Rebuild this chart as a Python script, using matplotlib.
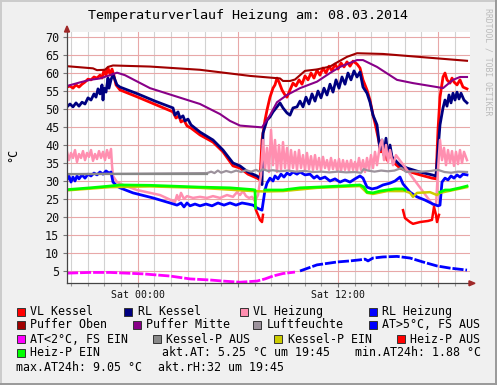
import matplotlib
matplotlib.use("Agg")
from matplotlib import pyplot as plt
from matplotlib.patches import Rectangle, Polygon
from matplotlib.lines import Line2D
import numpy as np

nan = np.nan
W, H = 497, 385
MONO = "DejaVu Sans Mono"

TITLE = "Temperaturverlauf Heizung am: 08.03.2014"
# time axis: hours relative to Sat 00:00 (window Fri 19:45 .. Sat 19:45)
x_ticks = [0, 6, 12, 18]
x_tick_labels = ["Sat 00:00", "", "Sat 12:00", ""]
x_minor = list(range(-4, 20))
y_ticks = list(range(5, 75, 5))

# (hour, degC) pairs
vl_kessel = [(-4.25,56.1),(-4.07,56.4),(-3.89,55.8),(-3.71,56.7),(-3.53,56.1),(-3.35,56.9),(-3.17,57.5),
    (-2.99,58.3),(-2.81,58.1),(-2.63,58.9),(-2.45,58.6),(-2.27,59.4),(-2.15,58.6),(-2.03,60.8),(-1.91,59.4),
    (-1.79,61.4),(-1.67,59.7),(-1.55,61.1),(-1.43,59.2),(-1.31,56.7),(-1.07,55.3),(0.0,53.3),(2.11,49.2),
    (2.29,47.5),(2.47,48.1),(2.59,46.4),(2.77,46.9),(2.95,45.3),(3.19,44.7),(3.73,42.8),(4.51,40.8),(5.11,38.1),
    (5.71,34.2),(6.13,33.6),(6.61,31.9),(7.15,30.8),(7.33,30.3),(7.45,41.4),(7.63,46.9),(7.75,49.7),(7.93,53.3),
    (8.11,55.8),(8.23,56.7),(8.35,58.6),(8.47,57.5),(8.65,55.3),(8.83,53.9),(8.95,53.3),(9.13,55.3),(9.31,57.2),
    (9.49,56.4),(9.67,58.1),(9.85,56.9),(10.03,59.2),(10.21,58.1),(10.39,60.0),(10.57,58.6),(10.75,60.8),
    (10.93,59.4),(11.11,61.4),(11.29,60.0),(11.47,61.9),(11.65,60.6),(11.83,62.5),(12.01,61.1),(12.19,62.8),
    (12.37,61.7),(12.55,63.1),(12.73,61.9),(12.91,63.3),(13.15,62.5),(13.33,61.4),(13.51,58.1),(13.75,55.3),
    (13.93,52.5),(14.11,48.3),(14.23,46.1),(14.41,42.2),(14.59,38.1),(14.77,40.0),(14.95,35.8),(15.13,38.6),
    (15.31,35.3),(15.73,33.6),(16.15,32.8),(16.93,31.7),(17.65,30.8),(17.89,30.6),(18.01,44.2),(18.13,53.3),
    (18.31,58.9),(18.43,60.0),(18.55,58.1),(18.73,57.2),(18.85,58.6),(18.97,57.5),(19.15,56.7),(19.33,58.1),
    (19.51,56.1),(19.75,55.6)]

rl_kessel = [(-4.25,50.6),(-4.07,51.4),(-3.89,50.6),(-3.71,51.7),(-3.53,50.8),(-3.35,51.9),(-3.17,51.4),
    (-2.99,53.1),(-2.81,52.5),(-2.63,54.2),(-2.51,53.3),(-2.39,55.6),(-2.27,54.2),(-2.15,56.7),(-2.09,52.5),
    (-2.03,55.8),(-1.91,54.7),(-1.79,58.6),(-1.73,55.8),(-1.61,58.1),(-1.49,59.7),(-1.37,58.1),(-1.25,56.7),
    (-1.07,56.1),(0.0,54.2),(1.03,52.2),(2.11,50.3),(2.23,48.3),(2.41,49.2),(2.53,47.5),(2.71,48.1),(2.83,46.7),
    (3.01,47.2),(3.19,45.6),(3.73,43.6),(4.51,41.4),(5.11,38.6),(5.71,35.0),(6.13,34.2),(6.61,32.5),(7.15,31.4),
    (7.33,30.8),(7.45,29.0),(7.51,43.3),(7.75,46.9),(7.93,47.8),(8.11,49.2),(8.35,50.6),(8.53,51.7),(8.71,50.3),
    (8.95,48.9),(9.13,48.3),(9.31,50.3),(9.55,50.6),(9.73,52.2),(9.91,50.6),(10.09,53.3),(10.27,51.4),
    (10.45,54.2),(10.63,52.2),(10.81,55.0),(10.99,53.1),(11.17,55.8),(11.35,53.9),(11.53,56.9),(11.71,54.7),
    (11.89,58.1),(12.07,55.8),(12.25,58.9),(12.43,56.9),(12.61,60.0),(12.79,58.1),(12.97,60.6),(13.15,58.9),
    (13.33,60.3),(13.51,56.1),(13.75,54.4),(13.93,51.9),(14.11,48.3),(14.35,45.6),(14.53,38.6),(14.65,41.4),
    (14.77,37.2),(14.89,41.9),(15.01,36.4),(15.13,40.0),(15.25,36.7),(15.73,34.4),(16.15,33.6),(16.93,32.5),
    (17.65,31.7),(17.89,31.4),(18.01,38.6),(18.13,45.6),(18.31,50.3),(18.43,52.5),(18.55,50.8),(18.67,53.9),
    (18.79,51.7),(18.91,54.4),(19.03,52.5),(19.15,54.7),(19.27,52.8),(19.39,54.4),(19.57,52.5),(19.75,51.7)]

vl_heizung = [(-4.25,38.1),(-4.13,35.8),(-4.01,37.8),(-3.89,36.4),(-3.77,38.6),(-3.65,35.3),(-3.53,37.5),
    (-3.41,36.4),(-3.29,38.3),(-3.17,35.8),(-3.05,37.8),(-2.93,36.7),(-2.81,38.6),(-2.69,35.6),(-2.57,37.5),
    (-2.45,36.1),(-2.33,38.3),(-2.21,36.4),(-2.09,38.1),(-1.97,35.8),(-1.85,38.6),(-1.73,36.4),(-1.61,38.9),
    (-1.55,34.4),(-1.49,31.4),(-1.25,29.7),(-0.89,28.9),(-0.05,27.5),(1.33,26.1),(2.23,24.2),(2.35,26.1),
    (2.47,24.7),(2.59,26.7),(2.77,25.0),(2.95,25.8),(3.31,25.3),(3.73,25.6),(4.15,25.3),(4.51,25.8),(4.93,25.3),
    (5.35,26.1),(5.71,25.6),(5.95,26.9),(6.13,26.1),(6.31,27.2),(6.49,25.8),(6.67,25.3),(6.85,25.6),(7.03,24.4),
    (7.21,26.1),(7.39,31.7),(7.51,41.4),(7.63,33.1),(7.75,39.2),(7.87,32.5),(7.99,44.2),(8.11,34.4),(8.23,41.4),
    (8.35,32.5),(8.47,40.0),(8.59,33.1),(8.71,40.8),(8.83,33.6),(8.95,39.2),(9.07,33.1),(9.19,38.6),(9.31,33.6),
    (9.43,38.1),(9.55,33.1),(9.67,38.6),(9.79,33.6),(9.91,37.2),(10.03,33.1),(10.15,37.8),(10.27,33.3),
    (10.39,36.9),(10.51,33.1),(10.63,37.2),(10.75,33.3),(10.87,36.4),(10.99,33.1),(11.11,36.7),(11.23,33.6),
    (11.35,35.8),(11.47,33.1),(11.59,36.4),(11.71,33.3),(11.83,35.8),(11.95,33.1),(12.07,36.1),(12.19,32.8),
    (12.31,35.8),(12.43,33.1),(12.55,35.6),(12.67,32.8),(12.79,35.8),(12.91,33.1),(13.03,35.3),(13.15,32.8),
    (13.27,36.4),(13.39,33.1),(13.51,35.8),(13.63,32.5),(13.75,36.4),(13.87,33.1),(13.99,37.2),(14.11,33.6),
    (14.23,38.1),(14.35,34.4),(14.53,40.0),(14.65,41.4),(14.77,35.8),(14.89,40.0),(15.01,35.3),(15.13,38.6),
    (15.31,34.4),(15.49,37.2),(17.71,23.3),(17.89,23.3),(18.01,33.1),(18.13,41.4),(18.25,35.8),(18.37,39.2),
    (18.49,34.4),(18.61,38.6),(18.73,35.0),(18.85,38.3),(18.97,34.2),(19.09,38.1),(19.21,34.7),(19.33,38.6),
    (19.45,35.0),(19.57,38.1),(19.75,35.8)]

rl_heizung = [(-4.25,30.3),(-4.13,31.4),(-4.01,29.7),(-3.89,31.1),(-3.77,30.0),(-3.65,31.4),(-3.53,30.6),
    (-3.35,31.7),(-3.17,30.8),(-2.99,31.9),(-2.81,31.4),(-2.63,32.2),(-2.45,31.7),(-2.27,32.5),(-2.09,31.9),
    (-1.91,32.8),(-1.73,32.2),(-1.61,32.5),(-1.49,29.7),(-1.25,28.6),(-1.07,28.1),(-0.29,26.7),(0.91,25.3),
    (1.93,23.9),(2.35,23.3),(2.59,23.9),(2.77,22.8),(2.95,23.9),(3.13,23.1),(3.43,23.6),(3.73,23.1),(4.09,23.6),
    (4.45,23.1),(4.81,23.9),(5.17,23.3),(5.53,23.9),(5.89,23.3),(6.25,23.9),(6.61,23.6),(6.91,23.3),(7.15,22.5),
    (7.45,21.9),(7.63,27.5),(7.75,29.4),(7.93,30.8),(8.11,30.0),(8.23,31.4),(8.41,30.6),(8.59,31.9),(8.77,31.1),
    (8.95,32.2),(9.13,31.7),(9.31,32.5),(9.55,31.9),(9.73,32.5),(10.03,31.7),(10.33,31.9),(10.57,30.8),
    (10.75,31.4),(10.93,30.6),(11.23,31.1),(11.53,30.0),(11.83,30.6),(12.13,29.7),(12.43,30.3),(12.73,29.7),
    (13.03,30.6),(13.33,31.4),(13.51,30.8),(13.75,28.3),(14.05,27.8),(14.35,28.1),(14.71,28.9),(15.13,29.4),
    (15.43,30.0),(15.73,31.1),(15.91,29.2),(16.33,26.9),(16.75,25.6),(17.23,24.7),(17.71,23.6),(18.01,23.1),
    (18.13,23.3),(18.25,29.7),(18.43,30.8),(18.61,30.3),(18.79,31.4),(18.97,30.8),(19.15,31.7),(19.33,31.1),
    (19.51,31.9),(19.75,31.7)]

puffer_oben = [(-4.25,61.9),(-2.69,61.3),(-2.45,60.8),(-1.97,60.9),(-1.79,61.7),(-1.49,62.1),(0.73,61.8),
    (3.73,60.9),(6.73,59.2),(8.53,58.5),(8.71,57.8),(9.13,57.8),(9.43,58.2),(9.73,59.4),(10.03,60.6),
    (10.75,61.0),(11.53,61.8),(12.01,63.1),(12.55,64.5),(13.15,65.5),(14.71,65.3),(19.75,63.4)]

puffer_mitte = [(-4.25,56.4),(-3.47,57.4),(-2.87,58.1),(-2.27,58.5),(-1.67,59.4),(-1.25,60.1),(-0.77,59.4),
    (0.73,55.8),(2.23,53.6),(3.73,51.4),(4.93,48.6),(5.53,46.7),(6.13,45.4),(7.45,44.9),(7.93,48.3),
    (8.35,51.9),(8.95,53.9),(9.73,55.8),(10.75,57.6),(11.53,60.0),(12.13,61.7),(13.15,63.6),(13.51,63.6),
    (14.35,61.7),(15.55,58.1),(16.51,57.2),(17.95,56.1),(18.31,55.8),(18.91,58.1),(19.33,58.9),(19.75,58.9)]

luftfeuchte = [(-4.25,31.9),(4.15,32.2),(4.4,32.6),(4.6,32.2),(4.8,32.9),(5.0,32.3),(5.3,32.8),(5.6,32.4),
    (5.9,32.9),(6.2,32.5),(6.5,33.0),(6.8,32.6),(7.1,33.1),(7.3,32.6),(7.5,33.3),(7.8,32.8),(8.1,33.0),
    (8.5,32.7),(9.0,32.9),(9.5,32.6),(10.0,32.8),(10.5,32.5),(11.0,32.6),(11.5,32.4),(12.0,32.6),(12.5,32.4),
    (13.0,32.5),(13.4,32.3),(13.55,33.3),(13.8,32.9),(14.2,32.6),(14.6,32.9),(15.0,32.7),(15.4,32.9),
    (15.8,33.6),(16.1,32.5),(16.5,32.7),(17.0,32.6),(17.6,32.8),(18.0,33.1),(18.4,32.5),(18.8,32.3),
    (19.2,32.6),(19.75,32.5)]

at_warm = [(9.73,5.0),(10.75,6.7),(11.95,7.5),(12.73,7.8),(13.33,8.1),(13.63,8.3),(13.81,7.8),(14.11,8.6),
    (14.71,8.9),(15.55,9.05),(16.33,8.6),(17.11,7.5),(17.95,6.4),(18.73,5.8),(19.75,5.25)]

at_cold = [(-4.25,4.4),(-2.87,4.6),(-1.67,4.6),(0.31,4.2),(1.93,3.6),(3.13,2.8),(4.33,2.5),(5.11,2.2),
    (6.13,1.88),(7.15,2.2),(7.63,2.8),(8.11,3.6),(8.71,4.3),(9.43,4.7)]

kessel_p_aus = [(-4.25,32.0),(4.15,32.0)]

kessel_p_ein = [(-4.25,27.4),(-1.67,28.3),(0.73,28.5),(3.73,28.1),(6.91,27.2),(7.63,27.1),(8.71,27.2),
    (10.75,28.1),(13.33,28.6),(13.75,26.7),(14.11,26.4),(14.95,27.2),(16.03,27.2),(16.33,26.7),(16.51,25.6),
    (16.75,26.7),(17.53,26.9),(17.95,26.1),(18.13,26.7),(19.75,28.3)]

heiz_p_aus = [(7.09,21.9),(7.21,20.6),(7.33,19.2),(7.45,18.6),(7.51,20.6),(nan,nan),
    (15.91,21.9),(16.03,19.7),(16.33,18.6),(16.51,18.1),(16.93,18.6),(17.41,18.9),(17.65,19.2),(17.77,22.8),
    (17.89,20.6),(17.95,18.6),(18.07,20.6)]

heiz_p_ein = [(-4.25,27.6),(-2.87,28.1),(-1.67,28.6),(-1.07,28.9),(0.73,28.8),(3.73,28.3),(5.53,28.1),
    (6.91,27.6),(7.03,27.5),(7.06,22.5),(nan,nan),(7.62,27.5),(8.71,27.5),(9.73,28.1),(10.75,28.3),
    (12.13,28.6),(13.33,28.9),(13.57,28.3),(13.75,26.9),(14.11,26.7),(14.53,27.2),(14.95,27.5),(15.43,27.8),
    (15.91,27.8),(16.03,27.5),(nan,nan),(18.13,26.9),(18.43,27.5),(18.73,27.5),(19.33,28.1),(19.75,28.6)]

labels = ["VL Kessel", "RL Kessel", "VL Heizung", "RL Heizung", "Puffer Oben", "Puffer Mitte",
          "Luftfeuchte", "AT>5°C, FS AUS", "AT<2°C, FS EIN", "Kessel-P AUS", "Kessel-P EIN",
          "Heiz-P AUS", "Heiz-P EIN"]
colors = ["#FF0000", "#000080", "#FF8FB0", "#0000FF", "#A00000", "#880088",
          "#9C929C", "#0000FF", "#FF00FF", "#888888", "#CCCC00", "#FF0000", "#00FF00"]
series = [vl_kessel, rl_kessel, vl_heizung, rl_heizung, puffer_oben, puffer_mitte,
          luftfeuchte, at_warm, at_cold, kessel_p_aus, kessel_p_ein, heiz_p_aus, heiz_p_ein]
widths = [2.0, 2.0, 1.8, 2.0, 1.5, 1.5, 1.6, 2.0, 2.0, 1.6, 1.8, 1.8, 2.0]

comments = [("akt.AT: 5.25 °C um 19:45", 162, 352.7), ("min.AT24h: 1.88 °C", 355, 352.7),
            ("max.AT24h: 9.05 °C", 16, 367.3), ("akt.rH:32 um 19:45", 158, 367.3)]


def fx(x):
    return x / W


def fy(y):
    return 1 - y / H


fig = plt.figure(figsize=(W / 100, H / 100), dpi=100, facecolor="#F0F0F0")
ax = fig.add_axes([fx(67), fy(283.3), (470 - 67) / W, (283.3 - 32) / H])
ax.set_facecolor("white")

for data, c, lw in zip(series, colors, widths):
    hh, vv = zip(*data)
    if data is at_warm or data is at_cold:
        ax.plot(hh, vv, color=c, lw=lw, dashes=(4, 0.7), solid_capstyle="butt")
    else:
        ax.plot(hh, vv, color=c, lw=lw)

ax.set_xlim(-4.25, 19.93)
ax.set_ylim(1.58, 71.4)
ax.set_yticks(y_ticks)
ax.set_yticklabels([str(t) for t in y_ticks], fontfamily=MONO, fontsize=8.5)
ax.set_xticks(x_ticks)
ax.set_xticklabels(x_tick_labels, fontfamily=MONO, fontsize=7.1)
ax.set_xticks(x_minor, minor=True)
ax.tick_params(axis="y", length=3, width=0.8, color="#777777", pad=2.5, labelcolor="#111111")
ax.tick_params(axis="x", which="major", length=3, width=0.8, color="#777777", pad=2, labelcolor="#111111")
ax.tick_params(axis="x", which="minor", length=2, width=0.8, color="#999999")
ax.set_axisbelow(True)
ax.grid(which="minor", axis="x", color="#D2D2D2", lw=0.8)
ax.grid(which="major", axis="both", color="#E8A8A8", lw=0.8)
for s in ["top", "right"]:
    ax.spines[s].set_visible(False)
for s in ["left", "bottom"]:
    ax.spines[s].set_color("#444444")
    ax.spines[s].set_linewidth(0.9)

# axis arrows
arrow_c = "#A02828"
fig.patches.append(Polygon([(fx(64.5), fy(32)), (fx(69.5), fy(32)), (fx(67), fy(26))],
                           closed=True, transform=fig.transFigure, color=arrow_c))
fig.patches.append(Polygon([(fx(469), fy(280.8)), (fx(469), fy(285.8)), (fx(475), fy(283.3))],
                           closed=True, transform=fig.transFigure, color=arrow_c))

fig.text(fx(248), fy(16), TITLE, fontfamily=MONO, fontsize=9.6, ha="center", va="center")
fig.text(fx(13), fy(155), "°C", fontfamily=MONO, fontsize=8.5, rotation=90, ha="center", va="center")
fig.text(fx(488), fy(62), "RRDTOOL / TOBI OETIKER", fontfamily=MONO, fontsize=5.9,
         rotation=-90, ha="center", va="center", color="#BBBBBB")

# legend, laid out like rrdtool does
rows = [311.7, 325, 339.3, 352.7]
box_x = [[16.5, 124.5, 240, 368.5], [16.5, 132.5, 253.5, 368.5], [16.5, 153, 274, 397], [16.5]]
k = 0
for r, xs in enumerate(box_x):
    for bx in xs:
        y = rows[r]
        fig.patches.append(Rectangle((fx(bx), fy(y + 4)), 8 / W, 8 / H, transform=fig.transFigure,
                                     facecolor=colors[k], edgecolor="#333333", lw=0.7))
        fig.text(fx(bx + 13.5), fy(y), labels[k], fontfamily=MONO, fontsize=8.4, ha="left", va="center")
        k += 1
for txt, x, y in comments:
    fig.text(fx(x), fy(y), txt, fontfamily=MONO, fontsize=8.4, ha="left", va="center")

# 3d frame
fig.lines.append(Line2D([0, 1], [fy(0.8), fy(0.8)], transform=fig.transFigure, color="#CBCBCB", lw=1.4))
fig.lines.append(Line2D([fx(0.8), fx(0.8)], [0, 1], transform=fig.transFigure, color="#CBCBCB", lw=1.4))
fig.lines.append(Line2D([0, 1], [fy(384.2), fy(384.2)], transform=fig.transFigure, color="#999999", lw=1.4))
fig.lines.append(Line2D([fx(496.2), fx(496.2)], [0, 1], transform=fig.transFigure, color="#999999", lw=1.4))

fig.savefig("out.png", dpi=100, facecolor=fig.get_facecolor())
plt.close(fig)
